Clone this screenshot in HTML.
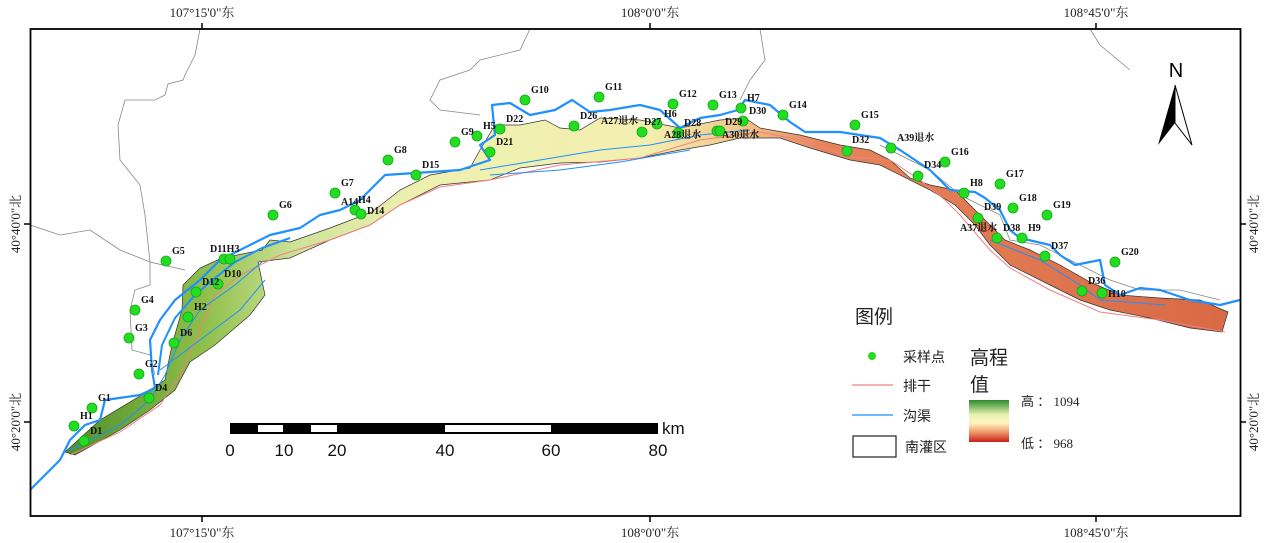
<!DOCTYPE html>
<html><head><meta charset="utf-8"><style>
html,body{margin:0;padding:0;background:#fff}
svg{display:block}
.lab{font-family:"Liberation Serif","Noto Serif CJK SC",serif;font-weight:bold;font-size:10px;fill:#111}
.ax{font-family:"Liberation Serif","Noto Serif CJK SC",serif;font-size:13px;fill:#222}
.cj{font-family:"Liberation Serif","Noto Sans CJK SC",sans-serif;fill:#222}
.sb{font-family:"Liberation Sans",sans-serif;font-size:17px;fill:#111}
</style></head><body>
<svg width="1268" height="543" viewBox="0 0 1268 543" xmlns="http://www.w3.org/2000/svg">
<defs>
<linearGradient id="reg" x1="0" x2="1" y1="0" y2="0">
<stop offset="0" stop-color="#4f8f28"/>
<stop offset="0.12" stop-color="#8fbf4a"/>
<stop offset="0.2" stop-color="#cfe39a"/>
<stop offset="0.3" stop-color="#eef0b0"/>
<stop offset="0.5" stop-color="#f3efb0"/>
<stop offset="0.58" stop-color="#f2c88a"/>
<stop offset="0.65" stop-color="#e7845a"/>
<stop offset="1" stop-color="#d86a45"/>
</linearGradient>
<linearGradient id="leg" x1="0" x2="0" y1="0" y2="1">
<stop offset="0" stop-color="#2f8a2a"/>
<stop offset="0.35" stop-color="#e8f3b0"/>
<stop offset="0.55" stop-color="#fff3c0"/>
<stop offset="0.75" stop-color="#f0a070"/>
<stop offset="1" stop-color="#c8201a"/>
</linearGradient>
</defs>
<g fill="none" stroke="#888" stroke-width="0.8">
<path d="M200,29 L195,55 L185,75 L183,80 L168,84 L165,95 L155,100 L125,100 L118,125 L120,160 L140,185 L145,215 L150,262 L185,270"/>
<path d="M30,225 L45,230 L60,235 L90,230 L120,250 L150,262"/>
<path d="M150,262 L150,285 L135,290 L130,310 L132,350 L150,355 L155,375"/>
<path d="M470,70 L440,80 L430,100 L440,110 L480,115"/>
<path d="M470,70 L480,60 L520,50 L530,29"/>
<path d="M760,29 L765,60 L750,80 L740,100"/>
<path d="M1090,29 L1100,45 L1130,70"/>
<path d="M880,145 L930,170 L960,195 L1000,215 L1010,240 L1040,245 L1080,265 L1110,280 L1140,290 L1180,290 L1220,300"/>
</g>
<path fill="url(#reg)" stroke="#333" stroke-width="0.7" d="M65,452 L100,420 L145,393 L165,380 L172,345 L182,310 L183,285 L200,268 L222,258 L262,250 L270,240 L290,242 L330,228 L372,212 L400,190 L430,175 L470,168 L480,150 L495,125 L520,125 L545,120 L560,128 L580,130 L600,118 L640,120 L680,128 L720,120 L745,118 L760,128 L800,135 L840,145 L870,150 L890,160 L910,178 L930,185 L955,190 L970,205 L990,225 L1005,240 L1030,250 L1060,265 L1090,282 L1120,295 L1160,298 L1200,300 L1228,312 L1222,332 L1190,328 L1150,318 L1110,310 L1080,300 L1050,285 L1010,265 L990,245 L975,225 L955,205 L930,190 L880,165 L850,160 L810,148 L780,138 L740,138 L710,145 L680,150 L640,158 L600,162 L560,163 L520,168 L490,180 L440,185 L400,205 L370,225 L330,240 L290,258 L258,262 L265,295 L250,315 L215,345 L190,362 L175,390 L150,410 L120,430 L75,455 Z"/>
<g fill="none" stroke="#f08080" stroke-width="1">
<path d="M70,455 L120,432 L160,405 L180,375 L200,330 L215,295 L240,275 L280,255 L330,240 L370,225 L400,205 L440,187 L490,180 L560,165 L640,158 L700,140 L760,132 L800,140 L850,157 L890,160 L920,180 L945,200 L960,215 L990,250 L1010,268 L1050,290 L1100,312 L1160,320 L1225,332"/>
</g>
<g fill="none" stroke="#1e90ff" stroke-width="2.2" stroke-linejoin="round">
<path d="M30,490 L60,460 L70,440 L85,425 L100,420 L105,400 L140,395 L155,388 L152,370 L150,340 L160,320 L175,300 L200,280 L220,260 L240,250 L270,235 L300,228 L320,215 L340,210 L360,200 L375,185 L385,175 L430,172 L460,170 L490,160 L480,145 L495,135 L492,105 L510,103 L530,115 L555,110 L572,100 L590,112 L610,110 L640,105 L660,110 L680,128 L700,118 L720,115 L738,110 L745,100 L770,105 L790,122 L805,132 L840,132 L880,138 L900,150 L930,170 L950,190 L975,192 L985,198 L1000,210 L1010,230 L1020,238 L1050,245 L1060,255 L1075,265 L1100,260 L1105,285 L1120,295 L1140,288 L1160,290 L1190,300 L1220,305 L1240,300"/>
<path d="M158,375 L162,345 L175,318 L195,295 L215,278 L235,262 L262,248 L290,238" stroke-width="2"/>
</g>
<g fill="none" stroke="#1e90ff" stroke-width="1">
<path d="M70,450 L120,425 L150,400 L165,375 L180,340 L200,310 L235,285 L262,262"/>
<path d="M160,370 L200,340 L240,310 L265,280"/>
<path d="M480,170 L540,160 L600,150 L650,145 L700,135 L750,130"/>
<path d="M490,175 L560,170 L620,162 L690,150"/>
<path d="M990,240 L1040,260 L1080,285 L1100,300 L1165,305"/>
</g>
<g fill="#22dd22" stroke="#11aa11" stroke-width="0.8">
<circle cx="92" cy="408" r="5"/><circle cx="74" cy="426" r="5"/><circle cx="84" cy="441" r="5"/>
<circle cx="149" cy="398" r="5"/><circle cx="139" cy="374" r="5"/><circle cx="129" cy="338" r="5"/>
<circle cx="135" cy="310" r="5"/><circle cx="174" cy="343" r="5"/><circle cx="188" cy="317" r="5"/>
<circle cx="196" cy="292" r="5"/><circle cx="218" cy="284" r="5"/><circle cx="224" cy="259" r="5"/>
<circle cx="230" cy="259" r="5"/><circle cx="166" cy="261" r="5"/><circle cx="273" cy="215" r="5"/>
<circle cx="355" cy="210" r="5"/><circle cx="361" cy="214" r="5"/><circle cx="335" cy="193" r="5"/>
<circle cx="388" cy="160" r="5"/><circle cx="416" cy="175" r="5"/><circle cx="455" cy="142" r="5"/>
<circle cx="477" cy="136" r="5"/><circle cx="490" cy="152" r="5"/><circle cx="500" cy="129" r="5"/>
<circle cx="525" cy="100" r="5"/><circle cx="599" cy="97" r="5"/><circle cx="574" cy="126" r="5"/>
<circle cx="642" cy="132" r="5"/><circle cx="657" cy="124" r="5"/><circle cx="673" cy="104" r="5"/>
<circle cx="678" cy="133" r="5"/><circle cx="713" cy="105" r="5"/><circle cx="717" cy="131" r="5"/>
<circle cx="741" cy="108" r="5"/><circle cx="743" cy="121" r="5"/><circle cx="720" cy="131" r="5"/>
<circle cx="783" cy="115" r="5"/><circle cx="855" cy="125" r="5"/><circle cx="847" cy="151" r="5"/>
<circle cx="891" cy="148" r="5"/><circle cx="945" cy="162" r="5"/><circle cx="918" cy="176" r="5"/>
<circle cx="964" cy="193" r="5"/><circle cx="1000" cy="184" r="5"/><circle cx="1013" cy="208" r="5"/>
<circle cx="978" cy="218" r="5"/><circle cx="1047" cy="215" r="5"/><circle cx="997" cy="238" r="5"/>
<circle cx="1022" cy="238" r="5"/><circle cx="1045" cy="256" r="5"/><circle cx="1115" cy="262" r="5"/>
<circle cx="1082" cy="291" r="5"/><circle cx="1102" cy="293" r="5"/>
</g>
<g class="lab">
<text x="98" y="401">G1</text><text x="80" y="419">H1</text><text x="90" y="434">D1</text>
<text x="155" y="391">D4</text><text x="145" y="367">G2</text><text x="135" y="331">G3</text>
<text x="141" y="303">G4</text><text x="180" y="336">D6</text><text x="194" y="310">H2</text>
<text x="202" y="285">D12</text><text x="224" y="277">D10</text><text x="210" y="252">D11H3</text>
<text x="172" y="254">G5</text><text x="279" y="208">G6</text><text x="341" y="205">A14</text>
<text x="358" y="203">H4</text><text x="367" y="214">D14</text><text x="341" y="186">G7</text>
<text x="394" y="153">G8</text><text x="422" y="168">D15</text><text x="461" y="135">G9</text>
<text x="483" y="129">H5</text><text x="496" y="145">D21</text><text x="506" y="122">D22</text>
<text x="531" y="93">G10</text><text x="605" y="90">G11</text><text x="580" y="119">D26</text>
<text x="601" y="124">A27退水</text><text x="644" y="125">D27</text><text x="679" y="97">G12</text>
<text x="664" y="117">H6</text><text x="664" y="138">A28退水</text><text x="684" y="126">D28</text>
<text x="719" y="98">G13</text><text x="725" y="125">D29</text><text x="747" y="101">H7</text>
<text x="749" y="114">D30</text><text x="722" y="138">A30退水</text><text x="789" y="108">G14</text>
<text x="861" y="118">G15</text><text x="852" y="143">D32</text><text x="897" y="141">A39退水</text>
<text x="951" y="155">G16</text><text x="924" y="168">D34</text><text x="970" y="186">H8</text>
<text x="1006" y="177">G17</text><text x="1019" y="201">G18</text><text x="984" y="210">D39</text>
<text x="1053" y="208">G19</text><text x="960" y="231">A37退水</text><text x="1003" y="231">D38</text>
<text x="1028" y="231">H9</text><text x="1051" y="249">D37</text><text x="1121" y="255">G20</text>
<text x="1088" y="284">D36</text><text x="1108" y="297">H10</text>
</g>
<rect x="30.5" y="29" width="1210" height="487" fill="none" stroke="#000" stroke-width="1.8"/>
<g stroke="#000" stroke-width="1.5">
<line x1="202" y1="23" x2="202" y2="29"/><line x1="650" y1="23" x2="650" y2="29"/><line x1="1096" y1="23" x2="1096" y2="29"/>
<line x1="202" y1="516" x2="202" y2="522"/><line x1="650" y1="516" x2="650" y2="522"/><line x1="1096" y1="516" x2="1096" y2="522"/>
<line x1="24" y1="224" x2="30" y2="224"/><line x1="24" y1="422" x2="30" y2="422"/>
<line x1="1240" y1="224" x2="1246" y2="224"/><line x1="1240" y1="422" x2="1246" y2="422"/>
</g>
<g class="ax" text-anchor="middle">
<text x="202" y="17">107°15'0"东</text><text x="650" y="17">108°0'0"东</text><text x="1096" y="17">108°45'0"东</text>
<text x="202" y="537">107°15'0"东</text><text x="650" y="537">108°0'0"东</text><text x="1096" y="537">108°45'0"东</text>
<text transform="translate(20,224) rotate(-90)">40°40'0"北</text>
<text transform="translate(20,422) rotate(-90)">40°20'0"北</text>
<text transform="translate(1258,224) rotate(-90)">40°40'0"北</text>
<text transform="translate(1258,422) rotate(-90)">40°20'0"北</text>
</g>
<rect x="230" y="423" width="428" height="11" fill="#000"/>
<rect x="258" y="425" width="25" height="7" fill="#fff"/>
<rect x="311" y="425" width="26" height="7" fill="#fff"/>
<rect x="445" y="425" width="106" height="7" fill="#fff"/>
<g class="sb" text-anchor="middle">
<text x="230" y="456">0</text><text x="284" y="456">10</text><text x="337" y="456">20</text>
<text x="445" y="456">40</text><text x="551" y="456">60</text><text x="658" y="456">80</text>
</g>
<text class="sb" x="662" y="434">km</text>
<text x="1176" y="77" font-family="Liberation Sans,sans-serif" font-size="20" text-anchor="middle">N</text>
<path d="M1175,85 L1158,145 L1175,123 Z" fill="#000"/>
<path d="M1175,85 L1192,145 L1175,123 Z" fill="#fff" stroke="#000" stroke-width="1"/>
<text class="cj" x="855" y="323" font-size="19">图例</text>
<circle cx="872" cy="356" r="4" fill="#22dd22"/>
<text class="cj" x="903" y="362" font-size="14">采样点</text>
<line x1="852" y1="385" x2="893" y2="385" stroke="#f08080" stroke-width="1.2"/>
<text class="cj" x="903" y="391" font-size="14">排干</text>
<line x1="852" y1="415" x2="893" y2="415" stroke="#1e90ff" stroke-width="1.2"/>
<text class="cj" x="903" y="421" font-size="14">沟渠</text>
<rect x="853" y="436" width="43" height="21" fill="#fff" stroke="#222" stroke-width="1.2"/>
<text class="cj" x="905" y="452" font-size="14">南灌区</text>
<text class="cj" x="970" y="364" font-size="19">高程</text>
<text class="cj" x="970" y="391" font-size="19">值</text>
<rect x="969" y="400" width="40" height="42" fill="url(#leg)"/>
<text class="cj" x="1021" y="406" font-size="13">高 ： 1094</text>
<text class="cj" x="1021" y="448" font-size="13">低 ： 968</text>
</svg>
</body></html>
